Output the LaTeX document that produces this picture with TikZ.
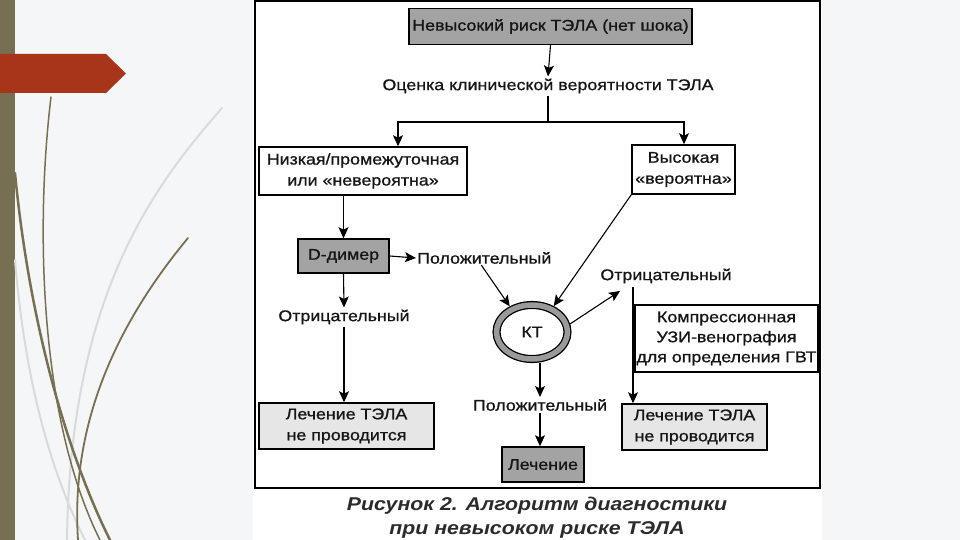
\documentclass[tikz,border=0pt]{standalone}
\usepackage{fontspec}
\setmainfont{Liberation Sans}[FakeStretch=1.15]
\newfontfamily\diafont{Liberation Sans}[FakeStretch=1.15,FakeBold=0.9]
\usetikzlibrary{arrows.meta,shapes.geometric,calc}
\definecolor{decoolive}{HTML}{776F52}
\definecolor{decored}{HTML}{A8341A}
\definecolor{decolight}{HTML}{DADADA}
\definecolor{slidebg}{HTML}{F5F6F7}
\definecolor{darkfill}{HTML}{A3A3A3}
\definecolor{lightfill}{HTML}{E6E6E6}
\definecolor{ringgrey}{HTML}{9A9A9A}
\definecolor{captcol}{HTML}{2B2B2B}
\definecolor{txtcol}{HTML}{151515}
\newcommand\dfs{\diafont\fontsize{15.5}{21}\selectfont}
\newcommand\cfs{\fontsize{18.5}{24}\selectfont\bfseries\itshape}
\begin{document}
\begin{tikzpicture}[x=1pt,y=-1pt,
  box/.style={draw=black, line width=1.5pt, inner sep=0pt, align=center, font=\dfs, text=txtcol},
  darkbox/.style={box, fill=darkfill},
  lightbox/.style={box, fill=lightfill},
  whitebox/.style={box, fill=white},
  lbl/.style={inner sep=2pt, align=center, font=\dfs, text=txtcol},
  arr/.style={-{Stealth[length=11pt,width=10pt,inset=2.5pt]}, line width=1.1pt},
  ln/.style={line width=1.1pt},
  deco/.style={draw=decoolive, line cap=round},
  decol/.style={draw=decolight, line cap=round}]
\useasboundingbox (0,0) rectangle (960,540);
% slide background and decoration
\fill[slidebg] (0,0) rectangle (960,540);
\fill[white] (253,0) rectangle (822,540);
\fill[decoolive] (0,0) rectangle (15,540);
\fill[decored] (0,54) -- (106,54) -- (126,73.5) -- (106,93) -- (0,93) -- cycle;
\draw[decol, line width=2pt] (222,108) .. controls (150,190) and (70,300) .. (67,540);
\draw[decol, line width=2pt] (15,260) .. controls (25,380) and (50,470) .. (85,540);
\draw[deco, line width=1.5pt] (51,97) .. controls (35,230) and (40,420) .. (100,540);
\draw[deco, line width=2.5pt] (15,173) .. controls (30,330) and (70,460) .. (110,540);
\draw[deco, line width=1.8pt] (188,238) .. controls (120,320) and (70,420) .. (78,540);
% diagram frame
\draw[black, line width=2pt] (255,1) rectangle (820,488);
% nodes
\node[darkbox, minimum width=283pt, minimum height=36pt] (top) at (550.5,26.5) {Невысокий риск ТЭЛА (нет шока)};
\node[lbl] (eval) at (548,86) {Оценка клинической вероятности ТЭЛА};
\node[whitebox, minimum width=208pt, minimum height=48pt] (low) at (363,171) {Низкая/промежуточная\\или «невероятна»};
\node[whitebox, minimum width=103pt, minimum height=49pt] (high) at (683.5,169.5) {Высокая\\«вероятна»};
\node[darkbox, minimum width=91pt, minimum height=34pt] (ddim) at (343.5,256) {D-димер};
\node[lbl, anchor=west, inner sep=1pt] (pos1) at (416,258) {Положительный};
\node[lbl] (neg1) at (344,317) {Отрицательный};
\node[lightbox, minimum width=175pt, minimum height=46pt] (notx1) at (346.5,426) {Лечение ТЭЛА\\не проводится};
\node[ellipse, draw=black, line width=1.3pt, double=ringgrey, double distance=5.5pt, minimum width=71pt, minimum height=54pt, inner sep=0pt, outer sep=4pt, font=\dfs, text=txtcol] (ct) at (532,332) {КТ};
\node[lbl] (neg2) at (666,276) {Отрицательный};
\node[whitebox, minimum width=183pt, minimum height=67pt, font=\diafont\fontsize{15.5}{20}\selectfont] (cus) at (726.5,338.5) {Компрессионная\\УЗИ-венография\\для определения ГВТ};
\node[lightbox, minimum width=145pt, minimum height=46pt] (notx2) at (694.5,427) {Лечение ТЭЛА\\не проводится};
\node[lbl] (pos2) at (540,405) {Положительный};
\node[darkbox, minimum width=82pt, minimum height=35pt] (treat) at (543,464.5) {Лечение};
\node[font=\cfs, text=captcol, align=center, inner sep=0pt] (capt) at (537,518) {Рисунок 2. Алгоритм диагностики\\при невысоком риске ТЭЛА};
% helper coordinates
\coordinate (jn) at (548,122);
\coordinate (jl) at (398,122);
\coordinate (jr) at (684,122);
\coordinate (n2tip) at (620,291);
\coordinate (vtop) at (633,287);
% connectors
\draw[arr] (top.south) -- (eval.north);
\draw[ln] (eval.south) -- (jn);
\draw[arr] (jn) -- (jl) -- (jl |- low.north);
\draw[arr] (jn) -- (jr) -- (jr |- high.north);
\draw[arr] (ddim.north |- low.south) -- (ddim.north);
\draw[arr] (ddim.east) -- (pos1.west);
\draw[arr] (ddim.south) -- (neg1.north);
\draw[arr] (neg1.south) -- (neg1.south |- notx1.north);
\draw[arr] ($(pos1.south)+(-3,0)$) -- (ct.131);
\draw[arr] (high.south west) -- (ct.50);
\draw[arr] (ct.12) -- (n2tip);
\draw[arr] (vtop) -- (vtop |- notx2.north);
\draw[arr] (ct.south -| pos2.north) -- (pos2.north);
\draw[arr] (pos2.south) -- (pos2.south |- treat.north);
\end{tikzpicture}
\end{document}
